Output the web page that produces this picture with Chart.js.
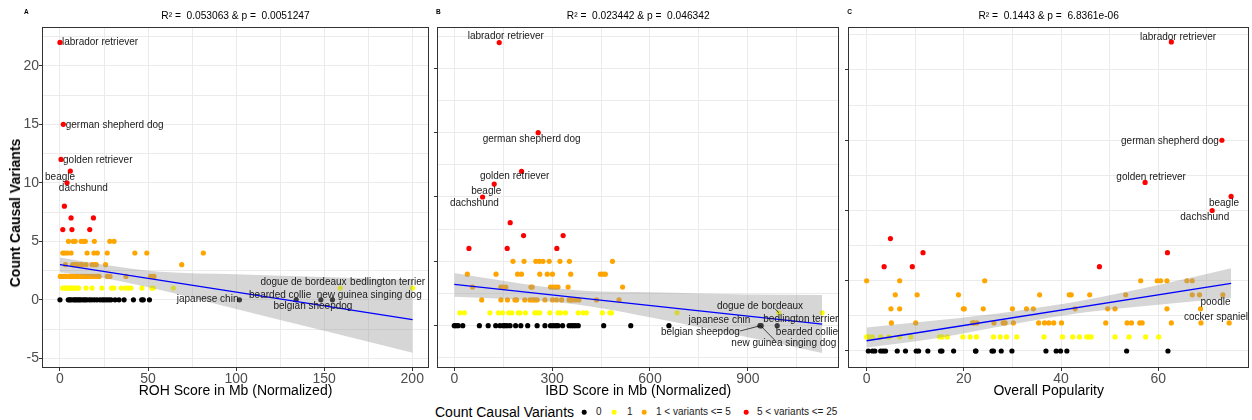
<!DOCTYPE html>
<html>
<head>
<meta charset="utf-8">
<title>Causal variants vs. ROH, IBD and popularity</title>
<script src="https://cdn.jsdelivr.net/npm/chart.js@4.4.1/dist/chart.umd.min.js"></script>
<style>
  html, body { margin: 0; padding: 0; background: #fff; }
  #fig { position: relative; width: 1252px; height: 420px; overflow: hidden;
         font-family: "Liberation Sans", Arial, Helvetica, sans-serif; color: #000; }
  #fig canvas { position: absolute; top: 0; }
  .ytitle { position: absolute; left: 15px; top: 213px; transform: translate(-50%, -50%) rotate(-90deg);
            font-weight: bold; font-size: 14px; white-space: nowrap; }
  .lg { position: absolute; top: 412px; transform: translateY(-50%); white-space: nowrap; line-height: 1; }
  .lg-title { font-size: 14px; }
  .lg-text { font-size: 10px; color: #1a1a1a; }
  .lg-dot { width: 4.6px; height: 4.6px; border-radius: 50%; transform: translate(-50%, -50%); }
</style>
</head>
<body>
<div id="fig">
  <canvas id="rohChart" width="432" height="400" style="left:0px"></canvas>
  <canvas id="ibdChart" width="410" height="400" style="left:432px"></canvas>
  <canvas id="popChart" width="410" height="400" style="left:842px"></canvas>
  <div class="ytitle">Count Causal Variants</div>
  <div class="lg lg-title" style="left:435px">Count Causal Variants</div>
  <div class="lg lg-dot" style="left:584px;background:#000000"></div>
  <div class="lg lg-text" style="left:596px">0</div>
  <div class="lg lg-dot" style="left:614px;background:#FFFF00"></div>
  <div class="lg lg-text" style="left:627px">1</div>
  <div class="lg lg-dot" style="left:644px;background:#FFA500"></div>
  <div class="lg lg-text" style="left:656px">1 &lt; variants &lt;= 5</div>
  <div class="lg lg-dot" style="left:746px;background:#FF0000"></div>
  <div class="lg lg-text" style="left:757px">5 &lt; variants &lt;= 25</div>
</div>
<script>
Chart.defaults.font.family = '"Liberation Sans", Arial, Helvetica, sans-serif';
Chart.defaults.animation = false;

const COLORS = { none: '#000000', one: '#FFFF00', few: '#FFA500', many: '#FF0000' };
const countTicks = [-5, 0, 5, 10, 15, 20];

// ---- A: ROH score ----
const rohNone = [0, 4.7, 5.6, 6.3, 7.6, 8.5, 9.3, 10.3, 11.1, 12.0, 13.3, 14.2, 15.2, 16.7, 18.0, 19.5, 21.0, 22.7,
  24.1, 25.2, 26.5, 27.8, 29.0, 31.3, 33.5, 36.4, 41.7, 46.4, 47.3, 50.8, 101.9, 134.1, 148.1, 154.7];
const rohOne = [1.5, 2.6, 3.3, 4.0, 5.3, 6.0, 6.8, 7.6, 8.3, 9.7, 10.6, 14.8, 18.2, 23.8, 29.3, 30.6, 34.8, 37.2,
  38.8, 40.3, 46.5, 52.1, 53.0, 64.4, 159.1, 200.2];
const rohFew = {
  5: [4.8, 7.5, 8.6, 12.0, 13.4, 14.4, 19.5, 28.3, 30.7],
  4: [1.6, 2.7, 4.2, 6.3, 15.4, 19.3, 21.2, 26.8, 42.5, 49.3, 81.4],
  3: [3.1, 7.2, 8.6, 9.7, 11.6, 12.5, 14.8, 18.2, 19.5, 20.6, 25.9, 69.1],
  2: [0.2, 1.4, 2.6, 3.4, 5.3, 6.3, 7.2, 8.8, 10.2, 12.1, 13.4, 14.6, 15.9, 17.2, 18.4, 19.7, 21.0, 22.2,
      26.9, 28.4, 37.5, 51.5, 52.7, 53.4]
};
const rohMany = [[0, 22], [1.9, 15], [0.6, 12], [5.9, 11], [4.0, 10], [2.5, 8], [6.3, 7], [19.0, 7],
  [1.6, 6], [6.8, 6], [16.9, 6]];
const rohFit = [[0, 3.0], [200.2, -1.70]];
const rohBandX = [0, 25, 57, 100, 150, 200.2];
const rohBandHi = [3.62, 3.0, 2.4, 2.19, 1.95, 1.69];
const rohBandLo = [2.35, 1.85, 0.84, -0.79, -2.65, -4.52];
const rohTicks = [0, 50, 100, 150, 200];
const rohNamed = [['labrador retriever', 0, 22], ['german shepherd dog', 1.9, 15], ['golden retriever', 0.6, 12],
  ['beagle', 5.9, 11], ['dachshund', 4.0, 10], ['japanese chin', 101.9, 0], ['bearded collie', 134.1, 0],
  ['belgian sheepdog', 148.1, 0], ['new guinea singing dog', 154.7, 0], ['dogue de bordeaux', 159.1, 1],
  ['bedlington terrier', 200.2, 1]];

// ---- B: IBD score ----
const ibdNone = [0, 5, 12, 26, 77, 104, 127, 140, 150, 155, 162, 171, 188, 204, 225, 254, 278, 295, 303, 311, 318,
  332, 352, 359, 365, 372, 380, 458, 541, 658, 937, 939, 941, 990];
const ibdOne = [17, 31, 109, 135, 148, 167, 176, 196, 201, 218, 247, 254, 262, 293, 318, 326, 341, 380, 395, 405,
  454, 477, 482, 683, 995, 1128];
const ibdFew = {
  5: [180, 214, 250, 261, 272, 291, 324, 353, 485],
  4: [40, 128, 194, 206, 262, 285, 301, 357, 448, 456, 463],
  3: [56, 143, 150, 158, 235, 239, 295, 303, 311, 318, 349, 516],
  2: [84, 143, 163, 186, 191, 216, 232, 240, 247, 254, 278, 301, 313, 329, 352, 357, 362, 372, 382, 436, 505]
};
const ibdMany = [[137.8, 22], [257.2, 15], [206.2, 12], [122.4, 11], [86.8, 10], [171.4, 8], [212.4, 7],
  [333.7, 7], [45, 6], [162.2, 6], [314.4, 6]];
const ibdFit = [[0, 3.21], [1128, 0.12]];
const ibdBandX = [0, 150, 300, 450, 600, 900, 1128];
const ibdBandHi = [4.1, 3.5, 2.95, 2.65, 2.6, 2.42, 2.38];
const ibdBandLo = [2.25, 2.1, 1.85, 1.35, 0.65, -0.9, -2.12];
const ibdTicks = [0, 300, 600, 900];
const ibdNamed = [['labrador retriever', 137.8, 22], ['german shepherd dog', 257.2, 15],
  ['golden retriever', 206.2, 12], ['beagle', 122.4, 11], ['dachshund', 86.8, 10],
  ['dogue de bordeaux', 995, 1], ['japanese chin', 939, 0], ['bedlington terrier', 1128, 1],
  ['belgian sheepdog', 939, 0], ['bearded collie', 990, 0], ['new guinea singing dog', 939, 0]];

// ---- C: overall popularity ----
const popNone = [0.35, 1.2, 1.7, 2.9, 3.4, 3.9, 6.3, 8.0, 10.2, 10.7, 12.6, 15.2, 15.5, 17.9, 22.4, 22.5, 25.8,
  26.1, 27.7, 29.9, 36.9, 39.0, 39.9, 41.2, 53.5, 62.0];
const popOne = [0, 0.5, 1.2, 2.9, 4.6, 6.8, 9.1, 15.0, 15.5, 16.6, 19.8, 21.3, 22.6, 26.1, 27.5, 28.8, 30.9, 36.5,
  40.3, 42.4, 43.8, 45.3, 45.7, 46.2, 51.1, 54.0, 57.4, 60.1];
const popFew = {
  5: [0, 6.8, 24.3, 56.4, 59.8, 60.5, 61.8, 65.9, 67.0],
  4: [5.9, 10.4, 18.9, 35.6, 41.7, 42.1, 45.9, 53.3, 67.0, 68.5, 73.3],
  3: [5.0, 6.8, 19.9, 20.1, 24.0, 30.0, 32.9, 34.3, 42.9, 49.6, 51.1, 61.8, 68.7],
  2: [5.1, 10.1, 21.8, 22.1, 22.7, 26.2, 28.1, 28.5, 30.2, 35.4, 36.6, 37.5, 38.5, 40.1, 49.2, 53.6, 54.5, 56.2,
      56.7, 62.7, 68.8, 74.6]
};
const popMany = [[62.7, 22], [73.1, 15], [57.3, 12], [75.0, 11], [71.1, 10], [4.9, 8], [11.6, 7], [61.9, 7],
  [3.6, 6], [9.4, 6], [47.9, 6]];
const popFit = [[0, 0.73], [75.0, 4.82]];
const popBandX = [0, 15, 30, 45, 60, 75];
const popBandHi = [1.68, 2.2, 2.82, 3.63, 4.7, 5.89];
const popBandLo = [0.25, 0.95, 1.9, 2.75, 3.3, 3.75];
const popTicks = [0, 20, 40, 60];
const popNamed = [['labrador retriever', 62.7, 22], ['german shepherd dog', 73.1, 15],
  ['golden retriever', 57.3, 12], ['beagle', 75.0, 11], ['dachshund', 71.1, 10], ['poodle', 68.7, 3],
  ['cocker spaniel', 68.8, 2]];

// label nudges in px: [dx, dy, align, leaderDx, leaderDy]
const rohNudge = [[2, 0.3, 'left'], [2.4, 0.7, 'left'], [2, 0.5, 'left'], [-10.3, 5.7, 'center'],
  [16.3, 5.5, 'center'], [-1, -0.3, 'right'], [-16, -4.8, 'center'], [-7.9, 6.2, 'center'],
  [36.7, -4.8, 'center'], [-36.7, -5.4, 'center'], [-25, -5.4, 'center']];
const ibdNudge = [[6.5, -6, 'center'], [-6.6, 6.4, 'center'], [-6.9, 5.4, 'center'], [-8, 6.9, 'center'],
  [-8.2, 6.3, 'center'], [-18.8, -6.8, 'center', -4.3, -4.5], [-10.3, -5.7, 'right'],
  [-21.4, 6.2, 'center'], [-60.2, 6.3, 'center', -20.5, 5.3], [29.8, 6.3, 'center'],
  [23.3, 17.6, 'center', 14, 14.3]];
const popNudge = [[6.7, -5, 'center'], [-3, 0.7, 'right'], [6, -5.4, 'center'], [-7.2, 6.6, 'center'],
  [-7.4, 7.2, 'center'], [15, -6.9, 'center'], [15, -5.2, 'center']];

// major ticks plus the half-step minor grid lines inside [min, max]
function gridValues(major, min, max) {
  const half = (major[1] - major[0]) / 2;
  const vals = new Set();
  major.forEach(v => [v - half, v, v + half].forEach(t => { if (t >= min && t <= max) vals.add(t); }));
  return [...vals].sort((a, b) => a - b);
}

const pts = (xs, y) => xs.map(x => ({ x, y }));
const pairs = arr => arr.map(([x, y]) => ({ x, y }));

const panelMarks = {
  id: 'panelMarks',
  afterDatasetsDraw(chart, args, opts) {
    const { ctx, chartArea: a, scales: { x, y } } = chart;
    ctx.save();
    ctx.strokeStyle = '#333333';
    ctx.lineWidth = 1;
    ctx.strokeRect(Math.round(a.left) + 0.5, Math.round(a.top) + 0.5,
      Math.round(a.right) - Math.round(a.left) - 1, Math.round(a.bottom) - Math.round(a.top) - 1);

    ctx.font = '10px "Liberation Sans", Arial, sans-serif';
    ctx.fillStyle = '#1a1a1a';
    ctx.strokeStyle = '#000';
    ctx.lineWidth = 0.7;
    ctx.textBaseline = 'middle';
    opts.names.forEach((n, i) => {
      const [dx, dy, align, lx, ly] = opts.nudge[i];
      const px = x.getPixelForValue(n[1]);
      const py = y.getPixelForValue(n[2]);
      if (lx !== undefined) {
        ctx.beginPath();
        ctx.moveTo(px, py);
        ctx.lineTo(px + lx, py + ly);
        ctx.stroke();
      }
      ctx.textAlign = align;
      ctx.fillText(n[0], px + dx, py + dy);
    });

    ctx.fillStyle = '#000';
    ctx.textBaseline = 'alphabetic';
    ctx.textAlign = 'center';
    ctx.font = '10.2px "Liberation Sans", Arial, sans-serif';
    ctx.fillText(opts.title, (a.left + a.right) / 2, 19);
    ctx.textAlign = 'left';
    ctx.font = 'bold 6.5px "Liberation Sans", Arial, sans-serif';
    ctx.fillText(opts.letter, opts.letterX, 14);
    ctx.restore();
  }
};

function buildPanel(p) {
  const isMajor = (v, arr) => arr.includes(v);
  const yGrid = gridValues(countTicks, p.yMin, p.yMax);
  const xGrid = gridValues(p.xTicks, p.xMin, p.xMax);
  const datasets = [
    { type: 'line', data: pairs(p.fit), borderColor: '#0000FF', borderWidth: 1.3, pointRadius: 0, fill: false },
    { type: 'line', data: p.bandX.map((x, i) => ({ x, y: p.bandHi[i] })), borderWidth: 0, pointRadius: 0,
      backgroundColor: 'rgba(153,153,153,0.4)', fill: '+1', cubicInterpolationMode: 'monotone' },
    { type: 'line', data: p.bandX.map((x, i) => ({ x, y: p.bandLo[i] })), borderWidth: 0, pointRadius: 0,
      fill: false, cubicInterpolationMode: 'monotone' },
    { data: pairs(p.many), backgroundColor: COLORS.many },
    { data: [5, 4, 3, 2].flatMap(k => pts(p.few[k], k)), backgroundColor: COLORS.few },
    { data: pts(p.one, 1), backgroundColor: COLORS.one },
    { data: pts(p.none, 0), backgroundColor: COLORS.none }
  ];
  datasets.slice(3).forEach(d => Object.assign(d, { pointRadius: 2.6, borderWidth: 0, pointHoverRadius: 2.6 }));

  new Chart(document.getElementById(p.canvas), {
    type: 'scatter',
    data: { datasets },
    plugins: [panelMarks],
    options: {
      responsive: false,
      events: [],
      layout: { padding: { top: 27, right: p.padRight, bottom: 0, left: 0 } },
      plugins: {
        legend: { display: false },
        tooltip: { enabled: false },
        panelMarks: { title: p.title, letter: p.letter, letterX: p.letterX, names: p.names, nudge: p.nudge }
      },
      scales: {
        x: {
          type: 'linear', min: p.xMin, max: p.xMax,
          afterBuildTicks: s => { s.ticks = xGrid.map(v => ({ value: v })); },
          afterFit: s => { s.height = 32; },
          border: { display: false },
          grid: {
            color: '#EBEBEB', lineWidth: 1, tickLength: 3, tickWidth: 1,
            tickColor: c => isMajor(c.tick.value, p.xTicks) ? '#333333' : 'rgba(0,0,0,0)'
          },
          ticks: {
            autoSkip: false, maxRotation: 0, padding: 1, color: '#4D4D4D',
            font: { size: 14, lineHeight: 1 },
            callback: v => isMajor(v, p.xTicks) ? String(v) : ''
          },
          title: { display: true, text: p.xTitle, color: '#000', font: { size: 14 }, padding: 0 }
        },
        y: {
          type: 'linear', min: p.yMin, max: p.yMax,
          afterBuildTicks: s => { s.ticks = yGrid.map(v => ({ value: v })); },
          afterFit: s => { s.width = p.yWidth; },
          border: { display: false },
          grid: {
            color: '#EBEBEB', lineWidth: 1, tickLength: 3, tickWidth: 1,
            tickColor: c => isMajor(c.tick.value, countTicks) ? '#333333' : 'rgba(0,0,0,0)'
          },
          ticks: {
            display: p.showY, autoSkip: false, padding: 0, color: '#4D4D4D',
            font: { size: 14, lineHeight: 1 },
            callback: v => isMajor(v, countTicks) ? String(v) : ''
          }
        }
      }
    }
  });
}

buildPanel({
  canvas: 'rohChart', letter: 'A', letterX: 24, title: 'R² =  0.053063 & p =  0.0051247',
  xTitle: 'ROH Score in Mb (Normalized)', xTicks: rohTicks, xMin: -10.2, xMax: 209.5,
  yMin: -5.83, yMax: 23.32, yWidth: 42, padRight: 3, showY: true,
  none: rohNone, one: rohOne, few: rohFew, many: rohMany,
  fit: rohFit, bandX: rohBandX, bandHi: rohBandHi, bandLo: rohBandLo,
  names: rohNamed, nudge: rohNudge
});
buildPanel({
  canvas: 'ibdChart', letter: 'B', letterX: 4, title: 'R² =  0.023442 & p =  0.046342',
  xTitle: 'IBD Score in Mb (Normalized)', xTicks: ibdTicks, xMin: -53, xMax: 1180.7,
  yMin: -3.29, yMax: 23.21, yWidth: 5, padRight: 2, showY: false,
  none: ibdNone, one: ibdOne, few: ibdFew, many: ibdMany,
  fit: ibdFit, bandX: ibdBandX, bandHi: ibdBandHi, bandLo: ibdBandLo,
  names: ibdNamed, nudge: ibdNudge
});
buildPanel({
  canvas: 'popChart', letter: 'C', letterX: 5.3, title: 'R² =  0.1443 & p =  6.8361e-06',
  xTitle: 'Overall Popularity', xTicks: popTicks, xMin: -3.83, xMax: 78.76,
  yMin: -1.21, yMax: 23.06, yWidth: 6, padRight: 0.3, showY: false,
  none: popNone, one: popOne, few: popFew, many: popMany,
  fit: popFit, bandX: popBandX, bandHi: popBandHi, bandLo: popBandLo,
  names: popNamed, nudge: popNudge
});
</script>
</body>
</html>
